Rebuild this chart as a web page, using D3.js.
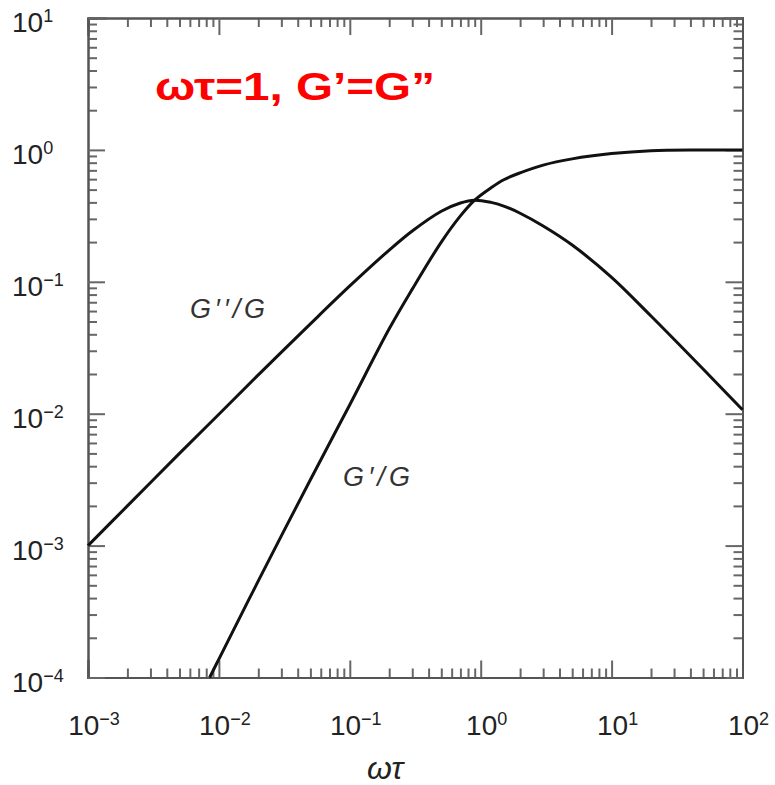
<!DOCTYPE html>
<html>
<head>
<meta charset="utf-8">
<script src="https://cdn.jsdelivr.net/npm/d3@7"></script>
<style>
  body { margin: 0; background: #fff; }
  svg { display: block; font-family: "Liberation Sans", Arial, sans-serif; }
  .frame .domain { stroke: #555; stroke-width: 2; }
  .frame .tick line { stroke: #666; stroke-width: 2; }
</style>
</head>
<body>
<script>
// values
const decades = [1e-3, 1e-2, 1e-1, 1, 10, 100];
const yDecades = [1e-4, 1e-3, 1e-2, 1e-1, 1, 10];
const xExp = [-3, -2, -1, 0, 1, 2];
const yExp = [-4, -3, -2, -1, 0, 1];

// G''/G
const lossX = [0.001, 0.002, 0.005, 0.01, 0.02, 0.05, 0.1, 0.2, 0.3, 0.5, 0.7, 0.9, 1.2, 1.5, 2, 3, 5, 10, 20, 50, 100];
const lossY = [0.001, 0.002, 0.005, 0.0099, 0.0197, 0.048, 0.093, 0.174, 0.243, 0.343, 0.396, 0.416, 0.40, 0.375, 0.331, 0.265, 0.19, 0.108, 0.055, 0.0218, 0.0107];

// G'/G
const storX = [0.0085, 0.01, 0.02, 0.05, 0.1, 0.2, 0.3, 0.5, 0.7, 0.9, 1.2, 1.5, 2, 3, 5, 10, 20, 50, 100];
const storY = [0.0001, 0.000138, 0.00054, 0.00316, 0.0117, 0.044, 0.088, 0.20, 0.316, 0.416, 0.516, 0.594, 0.67, 0.767, 0.855, 0.938, 0.986, 0.998, 1.0];

const width = 775, height = 785;
const pLeft = 88, pRight = 742.5, pTop = 18, pBottom = 677.5;

const x = d3.scaleLog().domain([1e-3, 1e2]).range([pLeft, pRight]);
const y = d3.scaleLog().domain([1e-4, 1e1]).range([pBottom, pTop]);

const svg = d3.select("body").append("svg")
  .attr("width", width).attr("height", height);

function minors(dec) {
  let out = [];
  for (let i = 0; i < dec.length - 1; i++)
    for (let k = 2; k <= 9; k++) out.push(dec[i] * k);
  return out;
}

const frame = svg.append("g").attr("class", "frame");

function side(axisFn, scale, dec, tr) {
  frame.append("g").attr("transform", tr)
    .call(axisFn(scale).tickValues(minors(dec)).tickSize(-9).tickFormat(""));
  frame.append("g").attr("transform", tr)
    .call(axisFn(scale).tickValues(dec).tickSize(-17).tickFormat(""));
}
side(d3.axisBottom, x, decades, `translate(0,${pBottom})`);
side(d3.axisTop, x, decades, `translate(0,${pTop})`);
side(d3.axisLeft, y, yDecades, `translate(${pLeft},0)`);
side(d3.axisRight, y, yDecades, `translate(${pRight},0)`);
frame.selectAll(".domain").attr("stroke-linecap", "square");

// tick labels with superscripts
const fmt = e => String(e).replace("-", "\u2212");

const yl = svg.append("g").selectAll("text").data(yDecades).join("text")
  .attr("x", 12).attr("y", d => y(d) + 14)
  .attr("font-size", 28).attr("fill", "#222");
yl.append("tspan").text("10");
yl.append("tspan").attr("dy", -10).attr("font-size", 18).text((d, i) => fmt(yExp[i]));

const xl = svg.append("g").selectAll("text").data(decades).join("text")
  .attr("x", d => x(d) + 6).attr("y", 735)
  .attr("text-anchor", "middle")
  .attr("font-size", 28).attr("fill", "#222");
xl.append("tspan").text("10");
xl.append("tspan").attr("dy", -10).attr("font-size", 18).text((d, i) => fmt(xExp[i]));

svg.append("text").attr("x", 385).attr("y", 779)
  .attr("text-anchor", "middle").attr("font-size", 32)
  .attr("font-style", "italic").attr("fill", "#222").text("ωτ");

// curves
const line = d3.line().curve(d3.curveCatmullRom.alpha(0.5));
const plot = svg.append("g");
plot.append("path")
  .attr("d", line(lossX.map((v, i) => [x(v), y(lossY[i])])))
  .attr("fill", "none").attr("stroke", "#111").attr("stroke-width", 3);
plot.append("path")
  .attr("d", line(storX.map((v, i) => [x(v), y(storY[i])])))
  .attr("fill", "none").attr("stroke", "#111").attr("stroke-width", 3);

svg.append("text").attr("x", 190).attr("y", 318)
  .attr("font-size", 27).attr("font-style", "italic").attr("fill", "#333")
  .attr("textLength", 75).attr("lengthAdjust", "spacing")
  .text("G\u2032\u2032/G");
svg.append("text").attr("x", 343).attr("y", 486)
  .attr("font-size", 27).attr("font-style", "italic").attr("fill", "#333")
  .attr("textLength", 67).attr("lengthAdjust", "spacing")
  .text("G\u2032/G");

svg.append("text").attr("x", 155).attr("y", 100)
  .attr("font-size", 39).attr("font-weight", "bold").attr("fill", "#ff0000")
  .attr("textLength", 280).attr("lengthAdjust", "spacingAndGlyphs")
  .text("ωτ=1, G’=G”");
</script>
</body>
</html>
